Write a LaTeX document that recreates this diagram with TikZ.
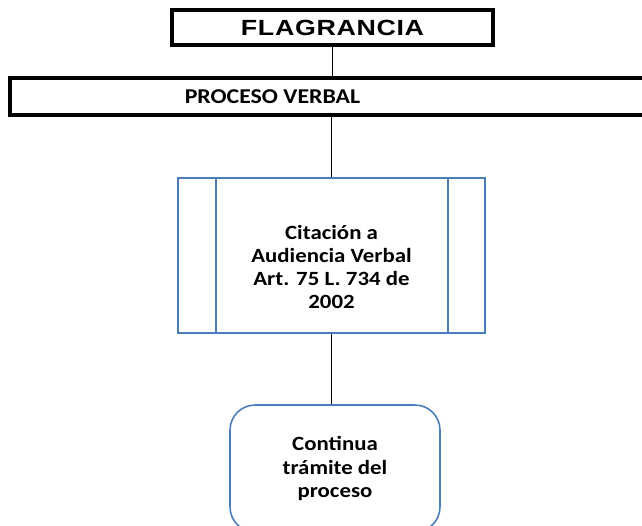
\documentclass[tikz,border=0pt]{standalone}
\usepackage{fontspec}
\usepackage{tikz}
\usetikzlibrary{positioning}
\newfontfamily\calib{Carlito}[FakeStretch=1.13]
\newfontfamily\arialb{Liberation Sans Bold}[FakeStretch=1.22,LetterSpace=3]
\definecolor{boxblue}{HTML}{4A7EBB}

\begin{document}
\begin{tikzpicture}[x=0.02cm, y=-0.02cm,
    heavybox/.style={draw, line width=2pt, inner sep=0pt},
    procbox/.style={draw=boxblue, line width=0.9pt, inner sep=0pt,
      minimum width=6.14cm, minimum height=3.1cm},
    endbox/.style={draw=boxblue, line width=0.9pt, rounded corners=0.5cm,
      minimum width=4.2cm, minimum height=2.54cm, align=center,
      font=\calib\bfseries\fontsize{11.5}{13.2}\selectfont},
    txt/.style={align=center, font=\calib\bfseries\fontsize{11.5}{13.2}\selectfont},
    link/.style={line width=1.1pt}]
    \useasboundingbox (0,0) rectangle (642,525);
    \node[heavybox, minimum width=6.42cm, minimum height=0.7cm,
      font=\arialb\fontsize{12.5}{15}\selectfont] (Flag) at (332.5,27.5) {FLAGRANCIA};
    \node[heavybox, minimum width=12.8cm, minimum height=0.74cm,
      font=\calib\bfseries\fontsize{12}{14}\selectfont] (Proceso) at (330,96.5) {};
    \node[font=\calib\bfseries\fontsize{12}{14}\selectfont] (ProcTxt) at (272.5,96.5) {PROCESO VERBAL};
    \node[procbox] (Cita) at (331.5,255.5) {};
    \node[txt] (CitaTxt) at (331.5,267) {Citación a\\Audiencia Verbal\\Art. 75 L. 734 de\\2002};
    \draw[boxblue, line width=0.9pt] ([xshift=0.78cm]Cita.north west) -- ([xshift=0.78cm]Cita.south west);
    \draw[boxblue, line width=0.9pt] ([xshift=-0.76cm]Cita.north east) -- ([xshift=-0.76cm]Cita.south east);
    \node[endbox] (Sigue) at (335,468.5) {Continua\\trámite del\\proceso};
    \draw[link] (Flag.south) -- (Flag.south |- Proceso.north);
    \draw[link] (Cita.north |- Proceso.south) -- (Cita.north);
    \draw[link] (Cita.south) -- (Cita.south |- Sigue.north);
\end{tikzpicture}
\end{document}
